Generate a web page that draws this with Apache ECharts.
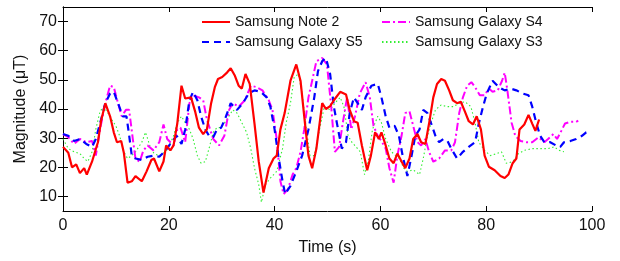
<!DOCTYPE html>
<html>
<head>
<meta charset="utf-8">
<script src="https://cdn.jsdelivr.net/npm/echarts@6/dist/echarts.min.js"></script>
<style>
  html, body { margin: 0; padding: 0; background: #fff; }
  #chart { width: 620px; height: 261px; }
</style>
</head>
<body>
<div id="chart"></div>
<script>
// 数据：[时间(s), 磁场强度(μT)]
const seriesNames = ["Samsung Note 2", "Samsung Galaxy S5", "Samsung Galaxy S4", "Samsung Galaxy S3"];
const xTicks = [0, 20, 40, 60, 80, 100];
const yTicks = [10, 20, 30, 40, 50, 60, 70];

const note2 = [
  [0, 27], [1, 25], [1.7, 20], [2.5, 21], [3.2, 18], [4, 19.7], [4.5, 17.5], [5.5, 22], [6.6, 28.6],
  [7.2, 36], [8, 42], [8.9, 37.5], [9.6, 32], [10.2, 28.6], [11, 29], [11.5, 25], [12.2, 14.7],
  [13, 15.2], [13.7, 17], [14.9, 15.2], [15.8, 18.6], [16.7, 22.5], [17.2, 23], [18.2, 18.6],
  [19, 22], [19.5, 27.5], [20.3, 25.8], [20.9, 27.5], [21.6, 35], [22.4, 48], [23.1, 43.6],
  [24.2, 44], [25, 39], [25.7, 33.6], [26.5, 31.4], [27.2, 33], [28, 42], [28.7, 47.5],
  [29.3, 50.3], [30.1, 51], [31, 52.5], [31.7, 54], [32.5, 51.4], [33.2, 48], [33.8, 47],
  [34.5, 52], [35.3, 48.6], [36.2, 35], [37, 22], [37.9, 11.3], [38.9, 19.7], [39.8, 23],
  [40.4, 24], [41.1, 33], [41.9, 38.6], [43, 49.7], [44.1, 55.3], [44.9, 49.7], [45.6, 37.5],
  [46.4, 24], [47.1, 19.7], [47.9, 26.4], [49, 42], [49.7, 40], [50.5, 41], [51.2, 43],
  [52.4, 45.9], [53.5, 45], [54.2, 39.7], [55, 35.8], [55.7, 35.3], [56.5, 27.5], [57.5, 19],
  [58.2, 24], [59, 32], [59.7, 29.7], [60.2, 32], [61, 27.5], [61.7, 23], [62.5, 21.4],
  [63.2, 24.7], [64, 22], [64.7, 19.7], [65.5, 23], [66.2, 29.7], [67, 31.4], [67.7, 28.6],
  [68.5, 28], [69.2, 35], [70, 44], [70.7, 48.6], [71.5, 50.3], [72.2, 49.7], [73, 46.4],
  [73.7, 43], [74.5, 42], [75.2, 42.5], [76, 39], [76.7, 35.8], [77.5, 34.7], [78.2, 37.5],
  [79, 33], [79.7, 24], [80.5, 20.2], [81.6, 19], [82.7, 17], [83.5, 16.3], [84.2, 17.5],
  [85, 21.4], [85.7, 23], [86.3, 33], [87.2, 34.7], [88, 38], [88.7, 35], [89.3, 32.5], [90, 36.4]
];

const galaxyS5 = [
  [0, 31.4], [1, 30.8], [2.1, 29], [3.2, 29.7], [4.4, 28], [5.5, 27], [6.2, 29.7], [7.2, 36.4],
  [8, 42], [8.9, 45.3], [9.6, 45.9], [10.4, 42], [11.3, 37.5], [12, 37.5], [12.5, 31], [13, 24],
  [13.7, 23], [14.9, 22.5], [16, 23.6], [17.1, 24], [18.2, 23.6], [19.4, 25.8], [20.5, 28.6],
  [21.5, 30.8], [22.4, 28], [23.1, 33], [23.9, 43], [24.6, 45.9], [25.4, 43], [26.1, 37.5],
  [26.9, 33], [27.6, 30.8], [28.4, 30.3], [29.1, 33], [29.9, 33.6], [30.6, 36.4], [31.7, 42],
  [32.9, 39.7], [34, 42], [35.1, 45.3], [36.2, 46.4], [37.4, 45.9], [38.5, 44], [39.2, 40.8],
  [40, 33], [40.7, 24], [41.5, 15.2], [42, 10.8], [43, 13.6], [44.1, 18.6], [45.2, 24],
  [46.4, 33], [47.5, 44], [48.2, 53], [49, 56.4], [49.7, 57.5], [50.5, 52], [51.2, 40.8],
  [52, 33], [52.7, 26.4], [53.5, 28.6], [54.2, 38.6], [55, 44], [55.7, 42], [56.5, 39.7],
  [57.2, 44], [58.3, 48], [59.5, 48.6], [60.2, 44], [61, 37.5], [61.7, 33.6], [62.7, 34.2],
  [63.5, 30.8], [64.2, 24], [65.1, 17], [65.9, 24], [66.6, 30.8], [67.4, 33], [68.1, 39.7],
  [68.9, 38.6], [69.6, 35], [70.4, 30.8], [71.1, 28.6], [71.9, 29.7], [72.7, 29], [73.4, 26.4],
  [74.5, 23], [75.6, 25.3], [76.7, 27], [77.9, 28.6], [78.6, 35], [79.4, 40.8], [80.1, 45.3],
  [81.2, 49.7], [82.4, 47.5], [83.5, 46.4], [84.6, 47], [85.7, 46.4], [86.9, 45.3], [88, 44.7],
  [88.7, 40.8], [89.5, 35], [90.2, 30.8], [91, 28.6], [92.1, 28.6], [93.2, 27.5], [94, 27],
  [94.7, 28.6], [95.9, 29], [97, 29.7], [98.1, 30.8], [98.9, 32], [99.8, 32.5]
];

const galaxyS4 = [
  [0, 31.4], [1, 30.3], [2.1, 28], [3.2, 29.7], [4.4, 28.6], [5.5, 29], [6.2, 24], [7, 33],
  [8, 42], [8.9, 48], [9.6, 47.5], [10.4, 42], [11.1, 37.5], [11.9, 39.7], [12.5, 39.7],
  [13.2, 29.7], [13.7, 23], [14.5, 21.9], [15.2, 25.8], [16, 27.5], [17.1, 25.8], [18.2, 28.6],
  [19, 34.7], [19.7, 29.7], [20.9, 27.5], [21.6, 33], [22.2, 33.6], [23.1, 28.6], [23.9, 42],
  [24.6, 44.7], [25.7, 44], [26.5, 43], [27.2, 36.4], [28.4, 29.7], [29.5, 27.5], [30.5, 30.8],
  [31.4, 39.7], [32.1, 42], [33.2, 40.8], [34.4, 43], [35.5, 48], [36.6, 47.5], [37.7, 46.4],
  [38.9, 43], [39.6, 39.7], [40.4, 29.7], [41.1, 15.2], [41.7, 10.8], [42.5, 12.4], [43.4, 17.5],
  [44.1, 19.7], [44.9, 25.3], [45.6, 33], [46.4, 44], [47.1, 49.7], [47.9, 56.4], [49, 57.5],
  [49.9, 55.3], [50.7, 40.8], [51.4, 25.3], [52.2, 27], [52.9, 35.3], [53.7, 44], [54.5, 33],
  [55.2, 37.5], [56.1, 45.3], [57.2, 49.2], [58, 44], [58.7, 34.2], [59.5, 30.8], [60.2, 29],
  [61, 26.4], [61.7, 19.7], [62.5, 14.7], [63.2, 24], [64, 30.8], [64.7, 38.6], [65.5, 39.2],
  [66.2, 34.2], [67, 28.6], [67.7, 27.5], [68.5, 29.7], [69.2, 25.3], [70, 21.9], [71.1, 23],
  [72.2, 25.8], [73.4, 25.8], [74.1, 28.6], [74.9, 38.6], [75.6, 44], [76.4, 48], [77.2, 49.2],
  [77.9, 47.5], [78.8, 44.7], [79.7, 44.7], [80.5, 47], [81.2, 45.9], [82.2, 46.4], [83, 49.7],
  [83.5, 52.5], [84, 46.4], [84.8, 35.3], [85.5, 30.8], [86.5, 29], [87.6, 28.6], [88.7, 28.6],
  [89.9, 30.3], [91, 28.6], [91.7, 29.7], [92.7, 31.4], [93.4, 29.7], [94.2, 32.5], [94.9, 35],
  [95.9, 35.6], [97, 35.6], [97.4, 36]
];

const galaxyS3 = [
  [0, 29.7], [1, 26.4], [2.1, 25.3], [3.2, 24.7], [4, 23], [4.7, 22], [5.5, 25.3], [6.2, 33],
  [7, 39.2], [7.7, 40.8], [8.5, 38.6], [9.2, 36.4], [10, 34.2], [10.7, 30.8], [11.5, 25.3],
  [12.2, 23], [13, 24], [13.7, 25.3], [14.9, 28.6], [15.6, 32], [16.4, 27.5], [17.2, 24.7],
  [18.2, 24], [19.4, 25.3], [20.1, 27.5], [20.9, 30.8], [21.6, 35.3], [22.4, 37.5], [23.1, 35.3],
  [23.9, 33], [24.6, 29.7], [25.4, 24], [26.1, 21.4], [26.9, 21.9], [27.6, 26.4], [28.4, 32],
  [29.1, 33.6], [29.9, 33.6], [31, 36.4], [32.1, 39.7], [32.9, 38.6], [33.8, 35.3], [34.7, 32],
  [35.5, 26.4], [36.2, 19.7], [37, 14.1], [37.5, 8], [38.3, 14.1], [39.2, 16.3], [40.4, 18.6],
  [41.5, 26.4], [42.2, 35.3], [43, 42], [43.7, 50.9], [44.5, 52], [45.2, 45.3], [46, 33],
  [46.7, 24], [47.5, 24], [48.5, 33], [49.4, 40.8], [50.5, 39.7], [51.4, 42], [52.4, 44],
  [53.1, 40.8], [53.9, 30.8], [54.6, 28.6], [55.4, 27], [56.2, 25.3], [57, 17.5], [57.7, 22],
  [58.5, 33], [59.5, 37.5], [60.2, 35.3], [61, 29.7], [62.1, 25.3], [62.9, 24], [63.6, 23],
  [64.4, 19.7], [65.1, 18.6], [66.2, 19.1], [67.4, 17.5], [68.1, 23], [68.9, 30.8], [69.6, 35.3],
  [70.4, 39.7], [71.5, 41.4], [72.6, 40.8], [73.8, 40.8], [74.9, 42], [76, 42.5], [77.1, 40.8],
  [77.9, 35.3], [78.6, 28.6], [79.7, 25.8], [80.8, 24], [82, 24.7], [82.9, 25.3], [83.8, 21.4],
  [85, 21.9], [86.1, 24.7], [87.2, 25.8], [88.7, 26.4], [90.2, 26.4], [91.7, 26.4], [92.8, 27],
  [93.8, 25.8], [94.7, 25.3]
];

const font = "'Liberation Sans', Arial, Helvetica, sans-serif";

const chart = echarts.init(document.getElementById("chart"), null, { renderer: "canvas" });

// 坐标轴公共样式（matlab风格：刻度朝内，四周边框）
const axisLine = { show: true, lineStyle: { color: "#000", width: 1 } };

// 图例公共样式：只画线，不画圆点
const legendBase = {
  orient: "vertical",
  top: 10,
  itemWidth: 28,
  itemHeight: 10,
  itemGap: 6,
  itemStyle: { opacity: 0 },
  textStyle: { fontSize: 14, color: "#111", fontFamily: font }
};

const option = {
  backgroundColor: "#fff",
  animation: false,
  textStyle: { fontFamily: font },
  grid: { left: 63, right: 28, top: 7, bottom: 44 },
  legend: [
    Object.assign({}, legendBase, { data: [seriesNames[0], seriesNames[1]], left: 196 }),
    Object.assign({}, legendBase, { data: [seriesNames[2], seriesNames[3]], left: 376 })
  ],
  xAxis: [
    {
      type: "value",
      min: 0,
      max: 100,
      interval: 20,
      name: "Time (s)",
      nameLocation: "middle",
      nameGap: 29,
      nameTextStyle: { fontSize: 16, color: "#111" },
      axisLine: axisLine,
      axisTick: { inside: true, length: 5, lineStyle: { color: "#000" } },
      axisLabel: { fontSize: 16, color: "#111", margin: 7 },
      splitLine: { show: false }
    },
    {
      type: "value",
      position: "top",
      min: 0,
      max: 100,
      interval: 20,
      axisLine: axisLine,
      axisTick: { inside: true, length: 5, lineStyle: { color: "#000" } },
      axisLabel: { show: false },
      splitLine: { show: false }
    }
  ],
  yAxis: [
    {
      type: "value",
      min: 5,
      max: 75,
      name: "Magnitude (μT)",
      nameLocation: "middle",
      nameGap: 24,
      nameTextStyle: { fontSize: 16, color: "#111" },
      axisLine: axisLine,
      axisTick: { inside: true, length: 5, customValues: yTicks, lineStyle: { color: "#000" } },
      axisLabel: { fontSize: 16, color: "#111", margin: 6, customValues: yTicks },
      splitLine: { show: false }
    },
    {
      type: "value",
      position: "right",
      min: 5,
      max: 75,
      axisLine: axisLine,
      axisTick: { inside: true, length: 5, customValues: yTicks, lineStyle: { color: "#000" } },
      axisLabel: { show: false },
      splitLine: { show: false }
    }
  ],
  series: [
    {
      name: seriesNames[3],
      type: "line",
      data: galaxyS3,
      symbol: "none",
      z: 1,
      lineStyle: { color: "#33ee33", width: 1.1, type: [1.5, 2.5] },
      itemStyle: { color: "#33ee33" }
    },
    {
      name: seriesNames[2],
      type: "line",
      data: galaxyS4,
      symbol: "none",
      z: 2,
      lineStyle: { color: "#ff00ff", width: 2, type: [8, 3, 2, 3] },
      itemStyle: { color: "#ff00ff" }
    },
    {
      name: seriesNames[1],
      type: "line",
      data: galaxyS5,
      symbol: "none",
      z: 3,
      lineStyle: { color: "#0000ff", width: 2.2, type: [7, 5] },
      itemStyle: { color: "#0000ff" }
    },
    {
      name: seriesNames[0],
      type: "line",
      data: note2,
      symbol: "none",
      z: 4,
      lineStyle: { color: "#ff0000", width: 2.2 },
      itemStyle: { color: "#ff0000" }
    }
  ]
};

chart.setOption(option);
window.addEventListener("resize", () => chart.resize());
</script>
</body>
</html>
